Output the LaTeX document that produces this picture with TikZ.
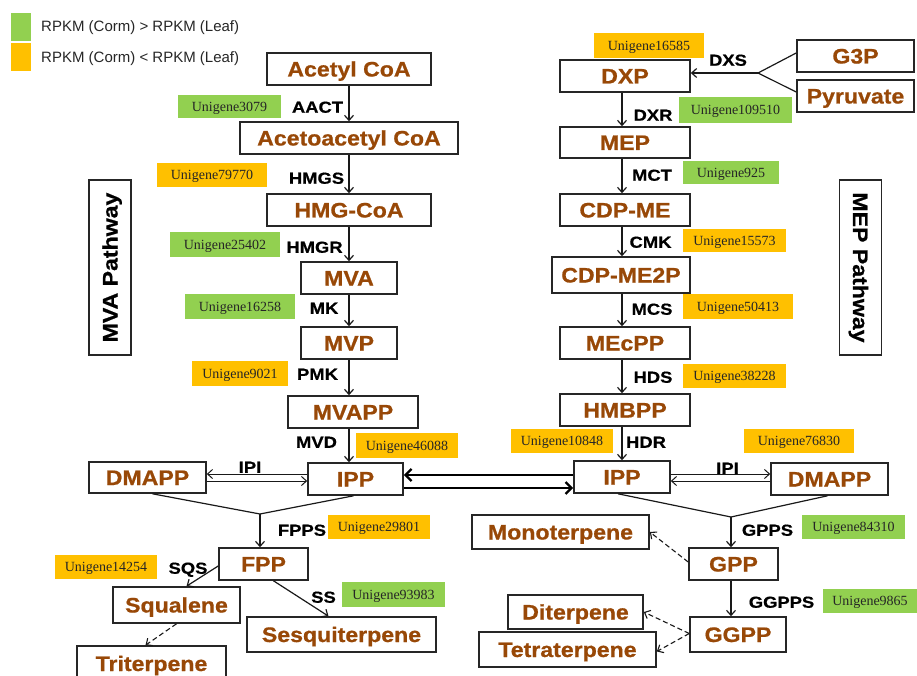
\documentclass[tikz,border=0pt]{standalone}
\usepackage{fontspec}
\setmainfont{Liberation Serif}
\newfontfamily\legfont{Liberation Sans}
\newfontfamily\boxfont{Liberation Sans}[FakeStretch=1.1,FakeBold=0.8]
\newfontfamily\enzfont{Liberation Sans}[FakeStretch=1.15,FakeBold=0.6]
\usetikzlibrary{arrows.meta}
\definecolor{brownc}{HTML}{984807}
\definecolor{greenc}{HTML}{92D050}
\definecolor{orangec}{HTML}{FFC000}
\begin{document}
\begin{tikzpicture}[x=1pt,y=-1pt,
  mb/.style n args={2}{draw=black!85, line width=1.6pt, inner sep=0pt, text=brownc,
     font=\boxfont\bfseries\fontsize{21}{21}\selectfont, text height=15pt, text depth=0pt,
     minimum width=#1pt, minimum height=#2pt},
  pw/.style={draw=black!85, line width=1.6pt, inner sep=0pt, text=black,
     font=\boxfont\bfseries\fontsize{21}{21}\selectfont, text height=15pt, text depth=0pt,
     minimum width=175pt, minimum height=42pt},
  ug/.style n args={3}{fill=#1, inner sep=0pt, text=black!85,
     font=\rmfamily\fontsize{14}{14}\selectfont, text height=9.5pt, text depth=0pt,
     minimum width=#2pt, minimum height=#3pt},
  enz/.style={inner sep=0pt, text=black, font=\enzfont\bfseries\fontsize{16}{16}\selectfont,
     text height=11.5pt, text depth=0pt},
  leg/.style={inner sep=0pt, anchor=west, text=black!85, font=\legfont\fontsize{15}{15}\selectfont,
     text height=11pt, text depth=0pt},
  arr/.style={line width=1.2pt, draw=black!90, -{Straight Barb[length=5pt,width=9pt]}},
  thin/.style={line width=1pt, draw=black!90, -{Straight Barb[length=5pt,width=9pt]}},
  thick/.style={line width=2.4pt, draw=black, -{Straight Barb[length=6pt,width=12pt]}},
  ln/.style={line width=1.2pt, draw=black!90},
  dsh/.style={line width=1.1pt, draw=black!90, dash pattern=on 5pt off 3pt, -{Straight Barb[length=5pt,width=9pt]}}
]
\useasboundingbox (0,0) rectangle (917,676);

% legend
\node[fill=greenc, minimum width=20pt, minimum height=28pt, inner sep=0pt] (lg) at (21,27) {};
\node[fill=orangec, minimum width=20pt, minimum height=28pt, inner sep=0pt] (lo) at (21,57) {};
\node[leg] (lgt) at (41,26) {RPKM (Corm) > RPKM (Leaf)};
\node[leg] (lot) at (41,57) {RPKM (Corm) < RPKM (Leaf)};

% pathway labels
\node[pw, rotate=90] (mvapw) at (110,267.5) {MVA Pathway};
\node[pw, rotate=-90] (meppw) at (860.5,267.5) {MEP Pathway};

% MVA column
\node[mb={164}{32}] (acetyl) at (349,69) {Acetyl CoA};
\node[mb={218}{32}] (acetoacetyl) at (349,138) {Acetoacetyl CoA};
\node[mb={164}{32}] (hmgcoa) at (349,210) {HMG-CoA};
\node[mb={96}{32}] (mva) at (349,278) {MVA};
\node[mb={96}{32}] (mvp) at (349,343) {MVP};
\node[mb={130}{32}] (mvapp) at (353,412) {MVAPP};
\node[mb={117}{31}] (dmapp1) at (147.5,477.5) {DMAPP};
\node[mb={95}{32}] (ipp1) at (355.5,479) {IPP};
\node[mb={89}{32}] (fpp) at (263.5,564) {FPP};
\node[mb={127}{36}] (squalene) at (176.5,605) {Squalene};
\node[mb={189}{35}] (sesqui) at (341.5,634.5) {Sesquiterpene};
\node[mb={149}{35}] (triterpene) at (151.5,663.5) {Triterpene};

% MEP column
\node[mb={130}{32}] (dxp) at (625,76) {DXP};
\node[mb={117}{32}] (g3p) at (855.5,56) {G3P};
\node[mb={117}{32}] (pyruvate) at (855.5,96) {Pyruvate};
\node[mb={130}{31}] (mep) at (625,142.5) {MEP};
\node[mb={130}{32}] (cdpme) at (625,210) {CDP-ME};
\node[mb={138}{36}] (cdpme2p) at (621,275) {CDP-ME2P};
\node[mb={130}{32}] (mecpp) at (625,343) {MEcPP};
\node[mb={130}{32}] (hmbpp) at (625,410) {HMBPP};
\node[mb={96}{32}] (ipp2) at (622,477) {IPP};
\node[mb={117}{32}] (dmapp2) at (829.5,479) {DMAPP};
\node[mb={177}{34}] (mono) at (560.5,532) {Monoterpene};
\node[mb={89}{32}] (gpp) at (733.5,564) {GPP};
\node[mb={96}{35}] (ggpp) at (738,634.5) {GGPP};
\node[mb={135}{34}] (diterpene) at (575.5,612) {Diterpene};
\node[mb={177}{35}] (tetraterpene) at (567.5,649.5) {Tetraterpene};

% gene boxes
\node[ug={greenc}{103}{23}] (u3079) at (229.5,106.5) {Unigene3079};
\node[ug={orangec}{110}{24}] (u79770) at (212,175) {Unigene79770};
\node[ug={greenc}{110}{25}] (u25402) at (225,244.5) {Unigene25402};
\node[ug={greenc}{110}{25}] (u16258) at (240,306.5) {Unigene16258};
\node[ug={orangec}{96}{25}] (u9021) at (240,373.5) {Unigene9021};
\node[ug={orangec}{102}{25}] (u46088) at (407,445.5) {Unigene46088};
\node[ug={orangec}{102}{24}] (u29801) at (379,527) {Unigene29801};
\node[ug={orangec}{102}{24}] (u14254) at (106,567) {Unigene14254};
\node[ug={greenc}{103}{25}] (u93983) at (393.5,594.5) {Unigene93983};
\node[ug={orangec}{110}{25}] (u16585) at (649,45.5) {Unigene16585};
\node[ug={greenc}{113}{26}] (u109510) at (735.5,110) {Unigene109510};
\node[ug={greenc}{96}{23}] (u925) at (731,172.5) {Unigene925};
\node[ug={orangec}{103}{23}] (u15573) at (734.5,240.5) {Unigene15573};
\node[ug={orangec}{110}{25}] (u50413) at (738,306.5) {Unigene50413};
\node[ug={orangec}{103}{24}] (u38228) at (734.5,376) {Unigene38228};
\node[ug={orangec}{102}{24}] (u10848) at (562,441) {Unigene10848};
\node[ug={orangec}{110}{24}] (u76830) at (799,441) {Unigene76830};
\node[ug={greenc}{103}{24}] (u84310) at (853.5,527) {Unigene84310};
\node[ug={greenc}{94}{24}] (u9865) at (870,601) {Unigene9865};

% enzyme labels
\node[enz] (aact) at (317.5,107) {AACT};
\node[enz] (hmgs) at (316.5,178) {HMGS};
\node[enz] (hmgr) at (314.5,247) {HMGR};
\node[enz] (mk) at (324,308) {MK};
\node[enz] (pmk) at (317.5,374) {PMK};
\node[enz] (mvd) at (316.5,442) {MVD};
\node[enz] (ipi1) at (250,467) {IPI};
\node[enz] (fpps) at (302,530) {FPPS};
\node[enz] (sqs) at (188,568) {SQS};
\node[enz] (ss) at (323.5,597) {SS};
\node[enz] (dxs) at (728,60) {DXS};
\node[enz] (dxr) at (653,115) {DXR};
\node[enz] (mct) at (652,175) {MCT};
\node[enz] (cmk) at (650.5,242) {CMK};
\node[enz] (mcs) at (652,309) {MCS};
\node[enz] (hds) at (653,377) {HDS};
\node[enz] (hdr) at (646,442) {HDR};
\node[enz] (ipi2) at (727.5,468) {IPI};
\node[enz] (gpps) at (767.5,530) {GPPS};
\node[enz] (ggpps) at (781.5,602) {GGPPS};

% MVA arrows
\draw[arr] (acetyl.south) -- (acetoacetyl.north);
\draw[arr] (acetoacetyl.south) -- (hmgcoa.north);
\draw[arr] (hmgcoa.south) -- (mva.north);
\draw[arr] (mva.south) -- (mvp.north);
\draw[arr] (mvp.south) -- (mvapp.north -| mvp.south);
\draw[arr] (mvapp.south -| mvp.south) -- (ipp1.north -| mvp.south);

% MEP arrows
\coordinate (mx) at (622,0);
\coordinate (dxsj) at (758,73);
\draw[ln] ([yshift=3pt]g3p.west) -- (dxsj);
\draw[ln] ([yshift=4pt]pyruvate.west) -- (dxsj);
\draw[arr] (dxsj) -- (dxsj -| dxp.east);
\draw[arr] (dxp.south -| mx) -- (mep.north -| mx);
\draw[arr] (mep.south -| mx) -- (cdpme.north -| mx);
\draw[arr] (cdpme.south -| mx) -- (cdpme2p.north -| mx);
\draw[arr] (cdpme2p.south -| mx) -- (mecpp.north -| mx);
\draw[arr] (mecpp.south -| mx) -- (hmbpp.north -| mx);
\draw[arr] (hmbpp.south -| mx) -- (ipp2.north -| mx);

% IPI arrows
\coordinate (yu) at (0,474);
\coordinate (yl) at (0,481);
\draw[thin] (ipp1.west |- yu) -- (dmapp1.east |- yu);
\draw[thin] (dmapp1.east |- yl) -- (ipp1.west |- yl);
\draw[thin] (ipp2.east |- yu) -- (dmapp2.west |- yu);
\draw[thin] (dmapp2.west |- yl) -- (ipp2.east |- yl);

% IPP exchange
\coordinate (tu) at (0,475);
\coordinate (tl) at (0,488);
\draw[thick] (ipp2.west |- tu) -- (ipp1.east |- tu);
\draw[thick] (ipp1.east |- tl) -- (ipp2.west |- tl);

% merges
\coordinate (m1) at (260,514);
\draw[ln] ([xshift=5pt]dmapp1.south) -- (m1) -- ([xshift=-2pt]ipp1.south);
\draw[arr] (m1) -- (m1 |- fpp.north);
\coordinate (m2) at (731,517);
\draw[ln] ([xshift=-4pt]ipp2.south) -- (m2) -- ([xshift=-2pt]dmapp2.south);
\draw[arr] (m2) -- (m2 |- gpp.north);
\draw[arr] (gpp.south -| m2) -- (ggpp.north -| m2);

% products
\draw[arr] ([yshift=-2pt]fpp.west) -- ([xshift=10pt]squalene.north);
\draw[arr] ([xshift=10pt]fpp.south) -- ([xshift=-13pt]sesqui.north);
\draw[dsh] (squalene.south) -- ([xshift=-6pt]triterpene.north);
\draw[dsh] ([yshift=2pt]gpp.west) -- (mono.east);
\draw[dsh] ([yshift=1pt]ggpp.west) -- (diterpene.east);
\draw[dsh] ([yshift=1pt]ggpp.west) -- ([yshift=-2pt]tetraterpene.east);
\end{tikzpicture}
\end{document}
